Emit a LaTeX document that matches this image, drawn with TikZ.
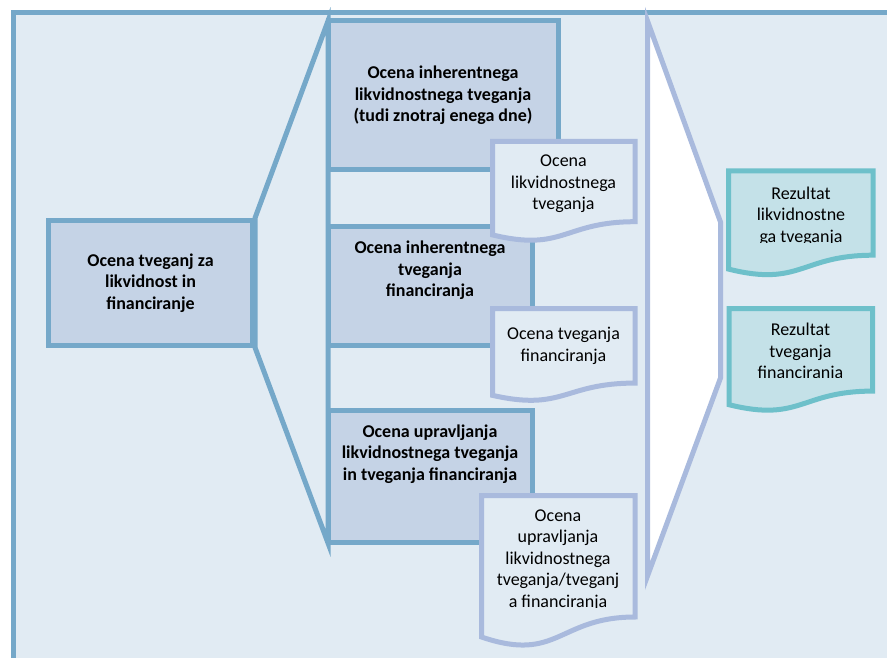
\documentclass[tikz,border=0pt]{standalone}
\usepackage{fontspec}
\setmainfont{Carlito}
\usetikzlibrary{positioning}

\definecolor{frameblue}{RGB}{117,168,201}
\definecolor{boxfill}{RGB}{197,211,230}
\definecolor{bgfill}{RGB}{225,235,243}
\definecolor{docline}{RGB}{169,186,221}
\definecolor{resline}{RGB}{110,192,202}
\definecolor{resfill}{RGB}{196,225,232}
\newcommand{\docfont}{\fontsize{18}{21.5}\selectfont}

% wavy document: style, x, y, width, height
\newcommand{\wavydoc}[5]{%
  \draw[#1] (#2,#3) -- ({#2+#4},#3) -- ({#2+#4},{#3+0.802*#5})
    .. controls ({#2+0.5*#4},{#3+0.802*#5}) and ({#2+0.5*#4},{#3+1.107*#5}) .. (#2,{#3+0.934*#5}) -- cycle;}

\begin{document}
\begin{tikzpicture}[x=1pt, y=-1pt,
	sqnode/.style={rectangle, draw=frameblue, fill=boxfill, line width=5pt, align=center, font=\docfont\bfseries},
	boldtxt/.style={align=center, font=\docfont\bfseries},
	doctxt/.style={align=center, font=\docfont},
	docshape/.style={draw=docline, fill=bgfill, line width=5pt},
	resshape/.style={draw=resline, fill=resfill, line width=5pt},
	funnel/.style={draw=frameblue, fill=bgfill, line width=5pt, line join=miter},
	arrowshape/.style={draw=docline, fill=white, line width=5pt, line join=miter}]
	\useasboundingbox (0,0) rectangle (887,658);
	\clip (0,0) rectangle (887,658);
	\draw[draw=frameblue, fill=bgfill, line width=5pt] (13,13) rectangle (950,720);

	% left box and funnel
	\node[sqnode, minimum width=204pt, minimum height=124.5pt] (total) at (150.5,282.75) {Ocena tveganj za\\likvidnost in\\financiranje};
	\draw[funnel] (total.north east) -- (328,21) -- (328,543) -- (total.south east) -- cycle;

	% middle column
	\node[sqnode, minimum width=230pt, minimum height=149pt] (inhlikv) at (443,95.5) {Ocena inherentnega\\likvidnostnega tveganja\\(tudi znotraj enega dne)};
	\node[sqnode, minimum width=204.5pt, minimum height=118pt] (inhfin) at (430.25,286) {};
	\node[boldtxt] (inhfintxt) at (430,270.5) {Ocena inherentnega\\tveganja\\financiranja};
	\node[sqnode, minimum width=204.5pt, minimum height=131.5pt] (upra) at (430.25,476.25) {};
	\node[boldtxt] (upratxt) at (430,454) {Ocena upravljanja\\likvidnostnega tveganja\\in tveganja financiranja};

	\wavydoc{docshape}{492.5}{141.5}{142.5}{100}
	\node[doctxt] (doclikv) at (563.5,184) {Ocena\\likvidnostnega\\tveganja};
	\wavydoc{docshape}{492.5}{308.5}{142.5}{93}
	\node[doctxt] (docfin) at (563.5,346) {Ocena tveganja\\financiranja};
	\wavydoc{docshape}{481.5}{495.5}{153.5}{151.5}
	\begin{scope}
		\clip (470,500) rectangle (640,607);
		\node[doctxt] (docupra) at (558,560) {Ocena\\upravljanja\\likvidnostnega\\tveganja/tveganj\\a financiranja};
	\end{scope}

	% right arrow
	\draw[arrowshape] (647.5,21) -- (720.5,222) -- (720.5,378) -- (647.5,576) -- cycle;

	% results
	\wavydoc{resshape}{728.5}{171}{144.5}{105}
	\begin{scope}
		\clip (720,175) rectangle (880,242);
		\node[doctxt] (reslikv) at (801,216) {Rezultat\\likvidnostne\\ga tveganja};
	\end{scope}
	\wavydoc{resshape}{729}{308.5}{143.5}{103}
	\begin{scope}
		\clip (720,312) rectangle (880,377);
		\node[doctxt] (resfin) at (800.5,352.5) {Rezultat\\tveganja\\financiranja};
	\end{scope}
\end{tikzpicture}
\end{document}
